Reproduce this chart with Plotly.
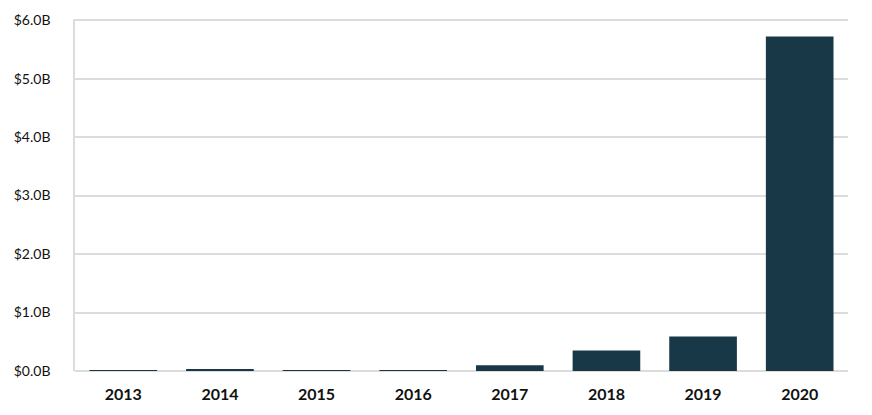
import plotly.graph_objects as go

years = ["2013", "2014", "2015", "2016", "2017", "2018", "2019", "2020"]
values_b = [0.015, 0.02, 0.015, 0.012, 0.10, 0.35, 0.59, 5.72]
y_ticks = [0, 1, 2, 3, 4, 5, 6]
y_tick_labels = ["$0.0B", "$1.0B", "$2.0B", "$3.0B", "$4.0B", "$5.0B", "$6.0B"]

fig = go.Figure(go.Bar(x=years, y=values_b, marker=dict(color="#183848", line=dict(width=0))))

fig.update_layout(
    width=872, height=415,
    margin=dict(l=75, r=24, t=19, b=44),
    paper_bgcolor="white", plot_bgcolor="white",
    bargap=0.3, showlegend=False,
    font=dict(family="Lato, Open Sans, sans-serif", color="#111111"),
)
fig.update_xaxes(
    showgrid=False, showline=False, zeroline=False,
    tickfont=dict(size=16, family="Lato, sans-serif", weight="bold", color="#111111"),
    ticks="", ticklabelstandoff=12,
)
fig.update_yaxes(
    range=[0, 6.02], tickvals=y_ticks, ticktext=y_tick_labels,
    showgrid=True, gridcolor="#dcdcdc", gridwidth=1.5,
    zeroline=True, zerolinecolor="#dcdcdc", zerolinewidth=1.5,
    showline=True, linecolor="#dcdcdc", linewidth=1.5,
    tickfont=dict(size=14, family="Lato, sans-serif", color="#111111"),
    ticks="", ticklabelstandoff=20,
)

fig.write_html("out.html", config={"displayModeBar": False},
               post_script="document.body.style.margin='0';document.body.style.padding='0';")
